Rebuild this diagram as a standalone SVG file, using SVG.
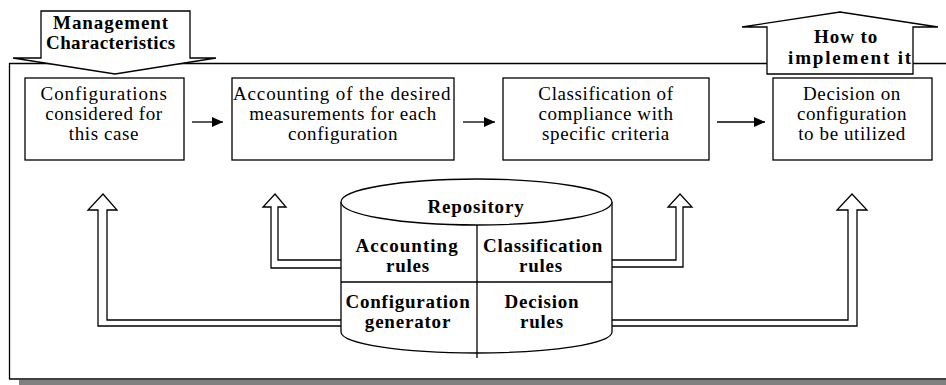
<svg xmlns="http://www.w3.org/2000/svg" width="946" height="385" viewBox="0 0 946 385">
<defs>
<marker id="ah" markerUnits="userSpaceOnUse" markerWidth="12" markerHeight="12" refX="11" refY="5" orient="auto">
<path d="M0,0 L11,5 L0,10 Z" fill="#000"/>
</marker>
<style>
.t{font-family:"Liberation Serif","Times New Roman",serif;font-size:19px;fill:#000;text-anchor:middle;letter-spacing:0.6px}
.b{font-family:"Liberation Serif","Times New Roman",serif;font-size:19px;font-weight:bold;fill:#000;text-anchor:middle;letter-spacing:0.8px}
.box{fill:#fff;stroke:#000;stroke-width:1.3}
.big{fill:#fff;stroke:#000;stroke-width:1.3}
.dbl{fill:#fff;stroke:#000;stroke-width:1.3;stroke-linejoin:miter}
.ln{stroke:#000;stroke-width:1.3;fill:none}
</style>
</defs>
<rect x="0" y="0" width="946" height="385" fill="#fff"/>
<rect x="19" y="380" width="927" height="5" fill="#808080"/>
<line x1="9" y1="379" x2="946" y2="379" stroke="#404040" stroke-width="2"/>
<g id="frame">
<line x1="9" y1="63.5" x2="946" y2="63.5" class="ln"/>
<line x1="9.5" y1="63" x2="9.5" y2="379" class="ln"/>
</g>
<g id="connectors">
<line x1="192" y1="122" x2="223" y2="122" class="ln" marker-end="url(#ah)"/>
<line x1="463" y1="122" x2="495" y2="122" class="ln" marker-end="url(#ah)"/>
<line x1="717" y1="122" x2="765" y2="122" class="ln" marker-end="url(#ah)"/>
<polygon class="dbl" points="103,194 117,210 107,210 107,320 342,320 342,326 98,326 98,210 88,210"/>
<polygon class="dbl" points="275,194 286,207 278,207 278,260 342,260 342,268 271,268 271,207 263,207"/>
<polygon class="dbl" points="680,194 692,207 683,207 683,267 611,267 611,260 676,260 676,207 668,207"/>
<polygon class="dbl" points="852,194 867,210 857,210 857,326 611,326 611,320 848,320 848,210 837,210"/>
</g>
<g id="mgmt">
<polygon class="big" points="41,11 190,11 190,58 216,58 115,74 13,58 41,58"/>
<text class="b" x="111" y="29" textLength="116">Management</text>
<text class="b" x="111" y="49" textLength="130">Characteristics</text>
</g>
<g id="howto">
<polygon class="big" points="840,12 938,27 913,27 913,74 767,74 767,27 742,27"/>
<text class="b" x="846" y="43" textLength="64">How to</text>
<text class="b" x="850" y="64" textLength="124">implement it</text>
</g>
<g id="box1">
<rect class="box" x="25" y="78" width="159" height="82"/>
<text class="t" x="104" y="100" textLength="127">Configurations</text>
<text class="t" x="104" y="120">considered for</text>
<text class="t" x="104" y="140">this case</text>
</g>
<g id="box2">
<rect class="box" x="232" y="78" width="222" height="82"/>
<text class="t" x="342" y="100" textLength="218">Accounting of the desired</text>
<text class="t" x="343" y="120">measurements for each</text>
<text class="t" x="343" y="140">configuration</text>
</g>
<g id="box3">
<rect class="box" x="503" y="78" width="206" height="82"/>
<text class="t" x="606" y="100">Classification of</text>
<text class="t" x="606" y="120">compliance with</text>
<text class="t" x="606" y="140">specific criteria</text>
</g>
<g id="box4">
<rect class="box" x="773" y="78" width="159" height="82"/>
<text class="t" x="852" y="100">Decision on</text>
<text class="t" x="852" y="120">configuration</text>
<text class="t" x="852" y="140">to be utilized</text>
</g>
<g id="repository">
<path class="box" d="M341,202 L341,332 A135.5,21 0 0 0 612,332 L612,202"/>
<ellipse class="box" cx="476.5" cy="202" rx="135.5" ry="23"/>
<line class="ln" x1="477" y1="225" x2="477" y2="358"/>
<line class="ln" x1="341" y1="282" x2="612" y2="282"/>
<text class="b" x="476" y="213" textLength="97">Repository</text>
<text class="b" x="407" y="252" textLength="103">Accounting</text>
<text class="b" x="408" y="272">rules</text>
<text class="b" x="543" y="252" textLength="120">Classification</text>
<text class="b" x="541" y="272">rules</text>
<text class="b" x="408" y="308" textLength="125">Configuration</text>
<text class="b" x="408" y="328">generator</text>
<text class="b" x="542" y="308">Decision</text>
<text class="b" x="542" y="328">rules</text>
</g>
</svg>
